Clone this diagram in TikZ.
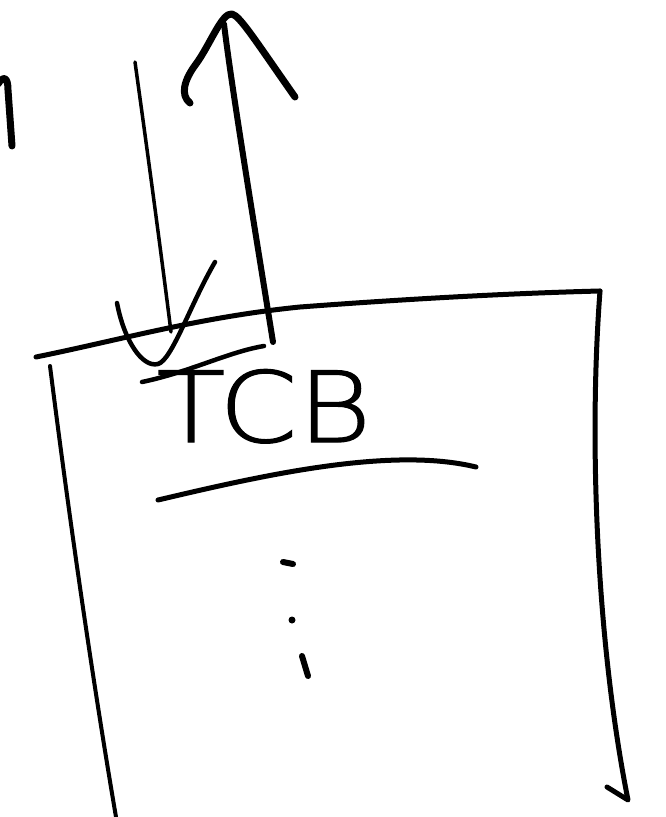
\documentclass[tikz,border=0pt]{standalone}
\usepackage{fontspec}
\newfontfamily\handfont{DejaVu Sans ExtraLight}[FakeBold=1.2]
\begin{document}
\begin{tikzpicture}[x=1pt,y=-1pt,
  ink/.style={line width=#1, line cap=round, line join=round, draw=black},
  ink/.default=5]
\useasboundingbox (0,0) rectangle (666,817);
\fill[white] (0,0) rectangle (666,817);

% partial stroke at top left
\draw[ink=7] (-2,84) .. controls (3,76) and (8,76) .. (8,90) -- (12,146);

% down arrow
\coordinate (dtop) at (135,62);
\coordinate (dtip) at (171,332);
\draw[ink=3.5] (dtop) .. controls (150,170) and (162,260) .. (dtip);
\draw[ink=4.5] (117,303) .. controls (124,340) and (142,368) .. (158,364)
  .. controls (172,360) and (190,305) .. (215,262);

% up arrow
\coordinate (utop) at (224,24);
\coordinate (ubot) at (273,342);
\draw[ink=6] (ubot) .. controls (255,230) and (232,90) .. (utop);
\draw[ink=7] (190,103) .. controls (180,95) and (184,80) .. (196,64)
  .. controls (210,45) and (222,12) .. (232,14)
  .. controls (240,16) and (255,40) .. (295,97);

% box
\coordinate (tl) at (36,357);
\coordinate (tr) at (600,291);
\coordinate (lt) at (50,366);
\coordinate (lb) at (116,817);
\coordinate (rb) at (628,800);
\draw[ink=5] (tl) .. controls (120,340) and (200,317) .. (300,307)
  .. controls (420,298) and (520,293) .. (tr);
\draw[ink=5] (tr) .. controls (588,450) and (598,650) .. (rb) -- (607,787);
\draw[ink=4] (lt) .. controls (72,540) and (96,700) .. (lb);

% TCB label with lines
\draw[ink=4.5] (142,382) .. controls (190,372) and (228,352) .. (264,346);
\node[anchor=base, inner sep=0pt, xscale=1.15, font=\handfont\fontsize{98}{98}\selectfont] (tcb) at (264,442) {TCB};
\draw[ink=5] (158,500) .. controls (260,476) and (390,446) .. (476,467);

% dots
\draw[ink=6] (283,562) -- (293,564);
\fill (292,620) circle (3.5);
\draw[ink=6] (302,656) -- (308,676);
\end{tikzpicture}
\end{document}
